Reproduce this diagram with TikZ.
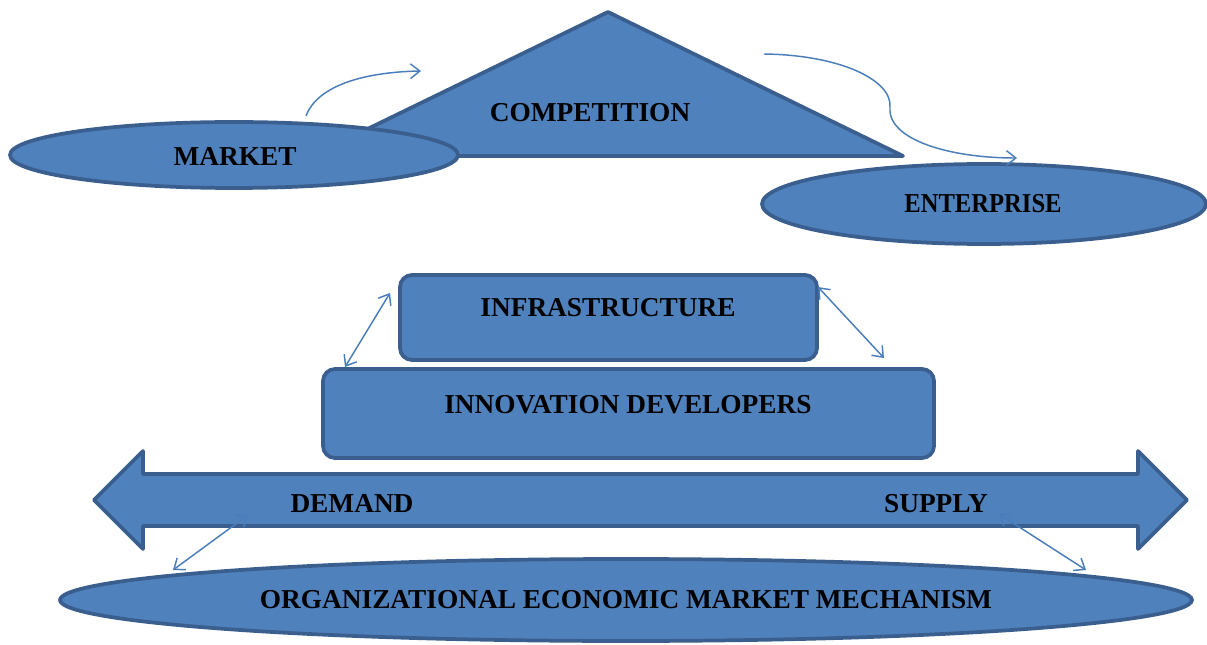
\documentclass[tikz,border=0pt]{standalone}
\usepackage{fontspec}
\setmainfont{Liberation Serif}
\usetikzlibrary{shapes.geometric,arrows.meta}
\definecolor{fillblue}{HTML}{4F81BD}
\definecolor{edgeblue}{HTML}{3A5F8E}
\definecolor{thinblue}{HTML}{4A7EBB}
\tikzset{
  shapeblue/.style={fill=fillblue,draw=edgeblue,line width=2.8pt,line join=round},
  oval/.style={shapeblue,ellipse,inner sep=0pt},
  boxblue/.style={shapeblue,rectangle,rounded corners=9pt,inner sep=0pt},
  lbl/.style={font=\fontsize{20.5}{24}\selectfont\bfseries,text=black,inner sep=0pt},
  thin arrow/.style={draw=thinblue,line width=1.1pt,-{Straight Barb[length=7pt,width=11pt]}},
  dbl arrow/.style={draw=thinblue,line width=1.1pt,{Straight Barb[length=7pt,width=11pt]}-{Straight Barb[length=7pt,width=11pt]}}
}
\begin{document}
\begin{tikzpicture}[x=0.75pt,y=-0.75pt]
\useasboundingbox (0,0) rectangle (1207,645);
% competition triangle
\path[shapeblue] (312,156) -- (608,12) -- (903,156) -- cycle;
\node[lbl] (comp) at (590,113) {COMPETITION};
% market
\node[oval,minimum width=336pt,minimum height=49.5pt] (market) at (234,155) {};
\node[lbl] (marketT) at (235,156) {MARKET};
% enterprise
\node[oval,minimum width=333pt,minimum height=60pt] (ent) at (984,204) {};
\node[lbl] (entT) at (983,204) {\scalebox{0.9}[1]{ENTERPRISE}};
% curved arrows
\coordinate (m1) at (306,116);
\coordinate (m2) at (421,71);
\draw[thin arrow] (m1) .. controls (318,84) and (368,72) .. (m2);
\coordinate (c1) at (764,54);
\coordinate (cmid) at (890,108);
\coordinate (c2) at (1017,158);
\draw[thin arrow] (c1) .. controls (840,55) and (893,80) .. (cmid) .. controls (888,140) and (950,158) .. (c2);
% boxes
\node[boxblue,minimum width=312.75pt,minimum height=63.75pt] (infra) at (608.5,317.5) {};
\node[lbl] (infraT) at (608,308) {INFRASTRUCTURE};
\node[boxblue,minimum width=458.25pt,minimum height=66.75pt] (innov) at (628.5,413.5) {};
\node[lbl] (innovT) at (628,405) {INNOVATION DEVELOPERS};
\coordinate (a1) at (390,293);
\coordinate (a2) at (345,367);
\draw[dbl arrow] (a1) -- (a2);
\coordinate (b1) at (818,287);
\coordinate (b2) at (884,358);
\draw[dbl arrow] (b1) -- (b2);
% big double arrow
\path[shapeblue] (94,500) -- (143,451) -- (143,474) -- (1138,474) -- (1138,451) -- (1187,500) -- (1138,549) -- (1138,526) -- (143,526) -- (143,549) -- cycle;
\node[lbl] (demand) at (352,504) {DEMAND};
\node[lbl] (supply) at (936,504) {SUPPLY};
% bottom ellipse
\node[oval,minimum width=849pt,minimum height=61.5pt] (mech) at (626,600) {};
\node[lbl] (mechT) at (626,600) {ORGANIZATIONAL ECONOMIC MARKET MECHANISM};
\coordinate (d1) at (248,515);
\coordinate (d2) at (173,570);
\draw[dbl arrow] (d1) -- (d2);
\coordinate (s1) at (999,514);
\coordinate (s2) at (1086,570);
\draw[dbl arrow] (s1) -- (s2);
\end{tikzpicture}
\end{document}
